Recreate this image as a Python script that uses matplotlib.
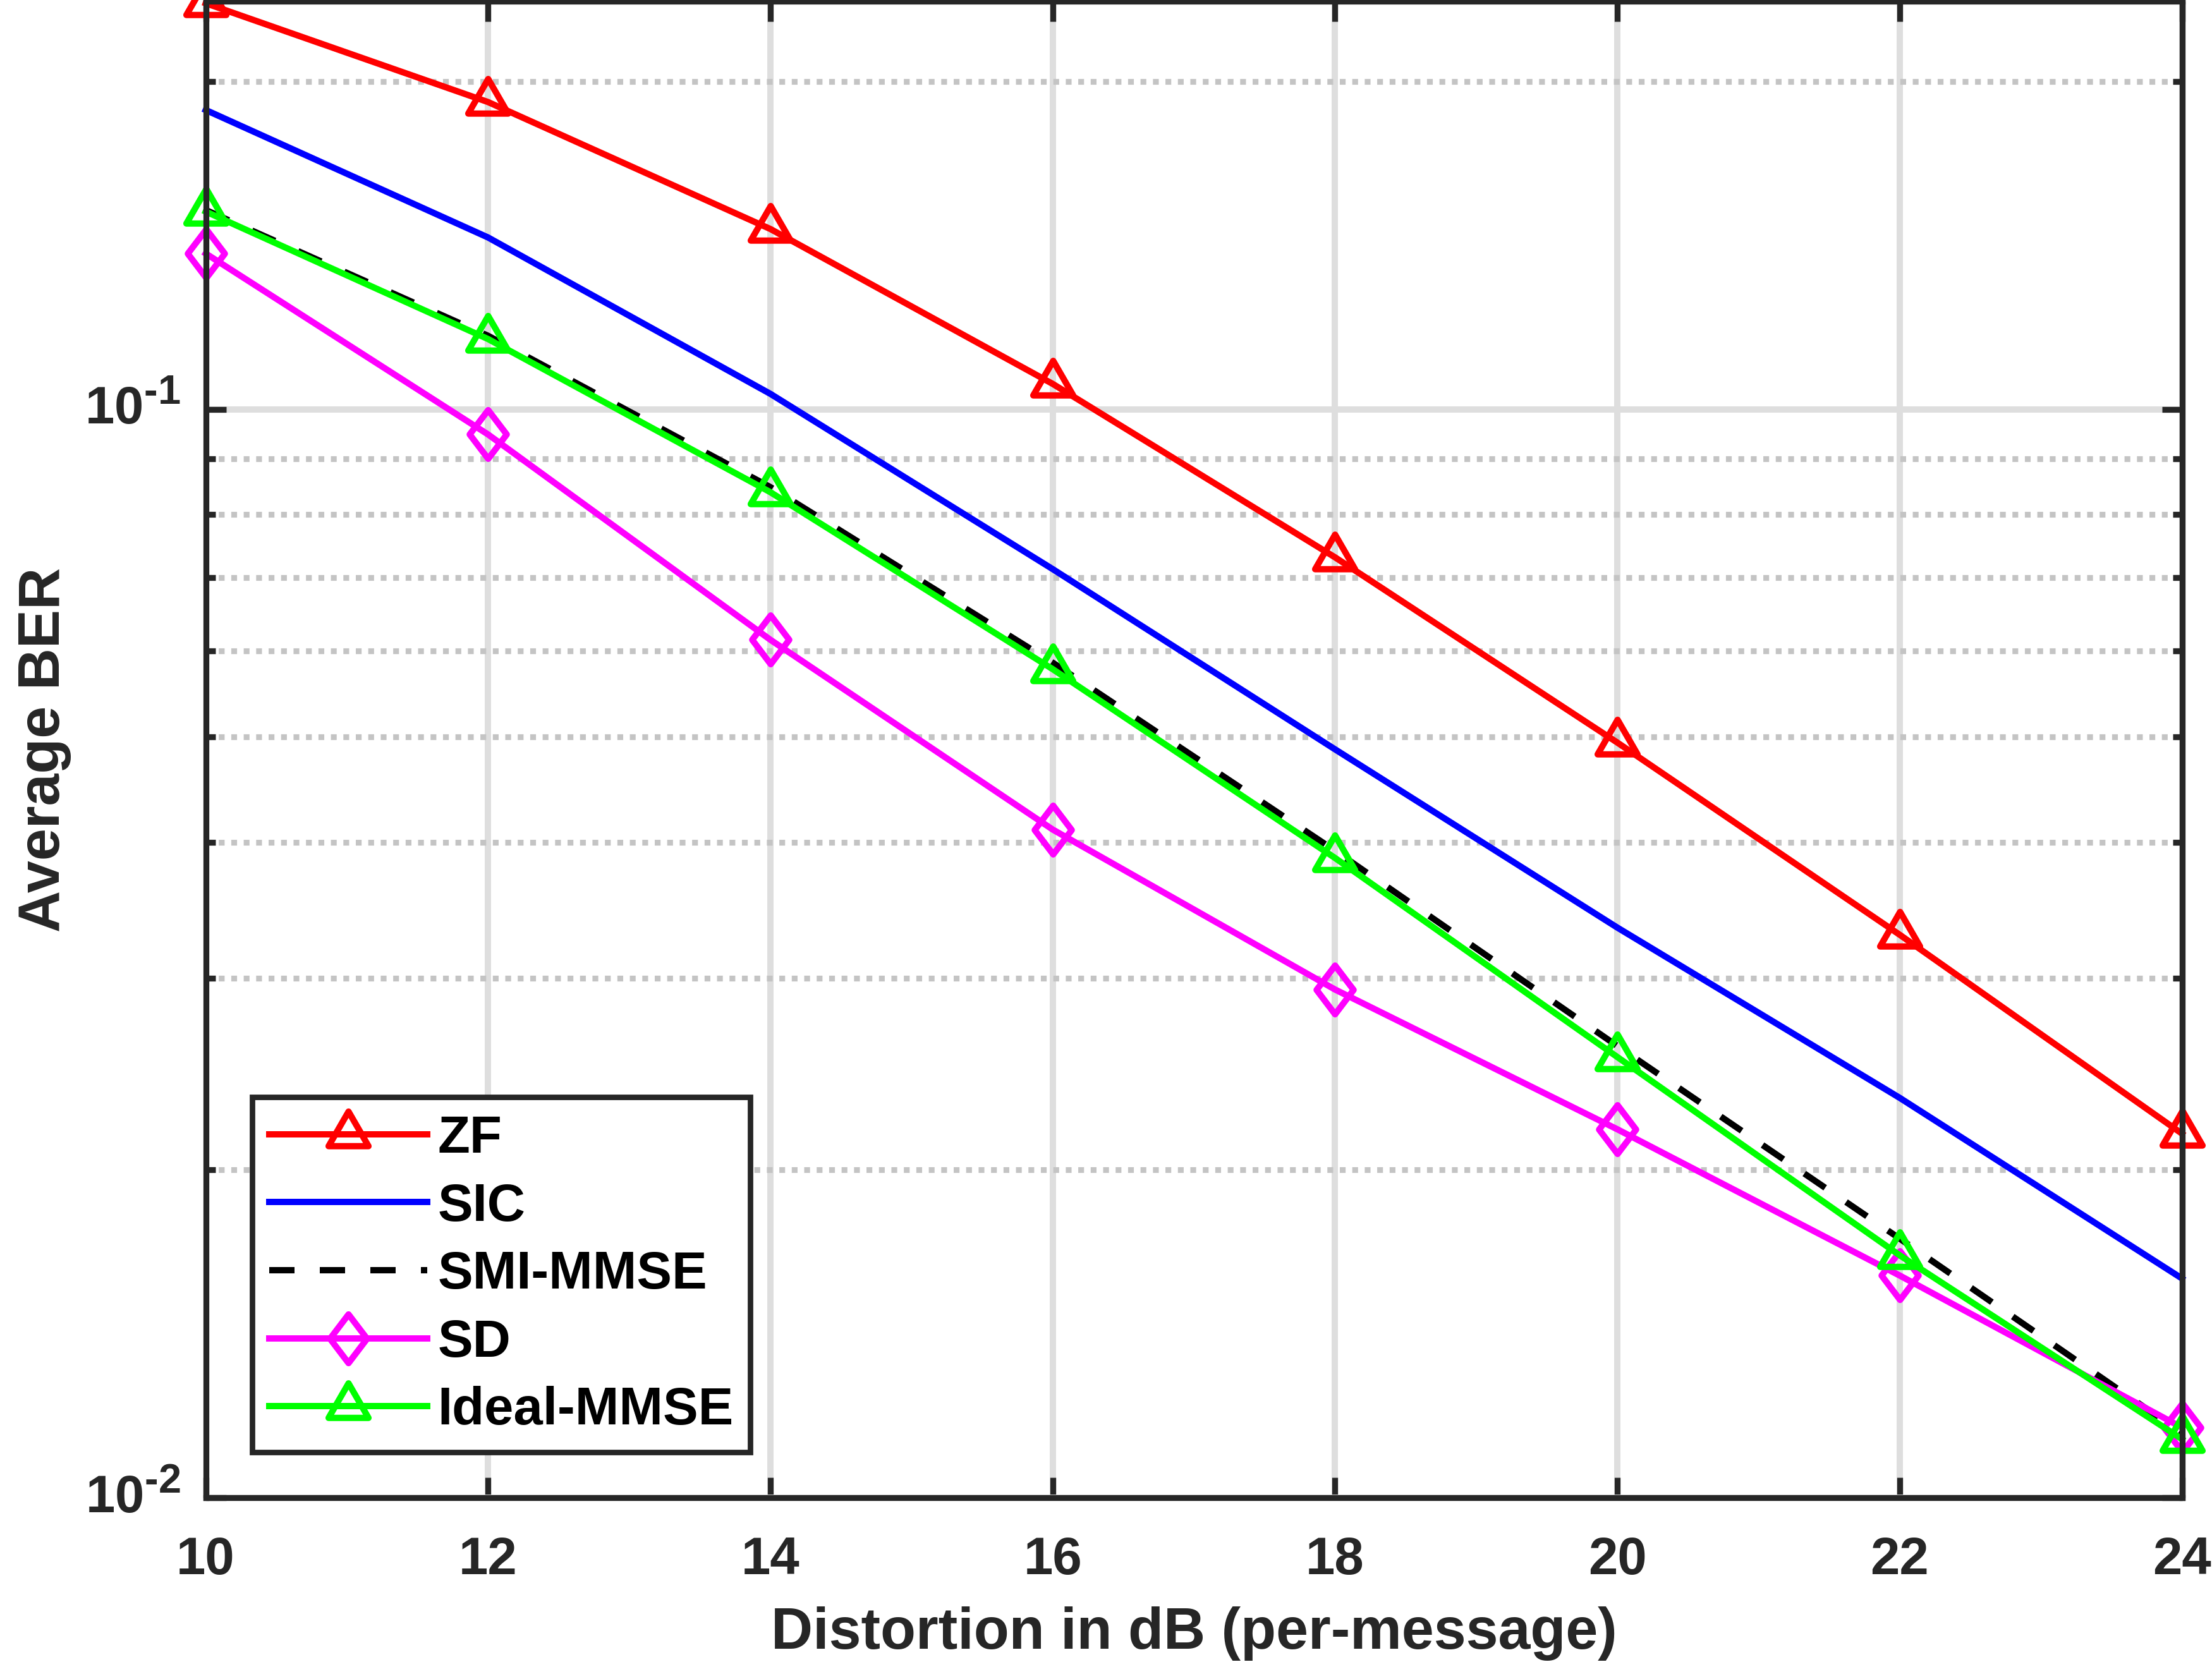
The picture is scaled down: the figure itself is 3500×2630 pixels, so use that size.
import matplotlib
matplotlib.use('Agg')
import matplotlib.pyplot as plt
import matplotlib._mathtext as mathtext_internal
from matplotlib.markers import MarkerStyle
from matplotlib.path import Path
from matplotlib.ticker import NullFormatter

# 字体: MATLAB 风格的粗体无衬线
plt.rcParams['font.family'] = ['Liberation Sans', 'DejaVu Sans']
plt.rcParams['font.weight'] = 'bold'
plt.rcParams['mathtext.fontset'] = 'custom'
plt.rcParams['mathtext.rm'] = 'Liberation Sans:bold'
plt.rcParams['mathtext.bf'] = 'Liberation Sans:bold'
plt.rcParams['mathtext.it'] = 'Liberation Sans:bold'
# 上标稍大一些, 接近 MATLAB
mathtext_internal.SHRINK_FACTOR = 0.78

# 数据
snr_db = [10, 12, 14, 16, 18, 20, 22, 24]
ber_zf = [0.236, 0.1915, 0.1464, 0.1055, 0.0731, 0.0494, 0.0329, 0.0216]
ber_sic = [0.1883, 0.1438, 0.1033, 0.0713, 0.0487, 0.0334, 0.0233, 0.0159]
ber_smi_mmse = [0.1524, 0.1168, 0.0848, 0.0585, 0.0393, 0.0260, 0.0173, 0.01146]
ber_sd = [0.1390, 0.0948, 0.0614, 0.0411, 0.0293, 0.0218, 0.0160, 0.0116]
ber_ideal_mmse = [0.1519, 0.1160, 0.0839, 0.0577, 0.0387, 0.0254, 0.0167, 0.01132]

x_ticks = [10, 12, 14, 16, 18, 20, 22, 24]
y_ticks = [1e-2, 1e-1]
y_tick_labels = [r'$10^{\text{-}2}$', r'$10^{\text{-}1}$']

AX_COLOR = '#262626'
LW = 2.4

# MATLAB 样式的三角形和菱形标记
tri = MarkerStyle(Path([(0, 1), (0.866, -0.5), (-0.866, -0.5), (0, 1)], closed=True),
                  joinstyle='miter')
dia = MarkerStyle(Path([(0, 1), (0.76, 0), (0, -1), (-0.76, 0), (0, 1)], closed=True),
                  joinstyle='miter')
MS_TRI = 17.5
MS_DIA = 18.5

fig = plt.figure(figsize=(3500 / 300, 2630 / 300), dpi=300)
ax = fig.add_axes([0.0930, 0.09886, 0.98643 - 0.0930, 0.99924 - 0.09886])

common = dict(linewidth=LW, markeredgewidth=LW, markerfacecolor='none', clip_on=False)
ax.plot(snr_db, ber_zf, color='#ff0000', marker=tri, markersize=MS_TRI, label='ZF', **common)
ax.plot(snr_db, ber_sic, color='#0000ff', label='SIC', **common)
ax.plot(snr_db, ber_smi_mmse, color='black', linestyle=(0, (4, 4)), label='SMI-MMSE', **common)
ax.plot(snr_db, ber_sd, color='#ff00ff', marker=dia, markersize=MS_DIA, label='SD', **common)
ax.plot(snr_db, ber_ideal_mmse, color='#00ff00', marker=tri, markersize=MS_TRI,
        label='Ideal-MMSE', **common)

ax.set_yscale('log')
ax.set_xlim(10, 24)
ax.set_ylim(0.01, 0.237)
ax.set_xticks(x_ticks)
ax.set_yticks(y_ticks, labels=y_tick_labels)
ax.yaxis.set_minor_formatter(NullFormatter())
for lab in ax.get_yticklabels():
    lab.set_verticalalignment('center')

# 网格
ax.set_axisbelow(True)
ax.grid(which='major', axis='both', color='#dedede', linewidth=LW, linestyle='-')
ax.yaxis.grid(which='minor', color='#c4c4c4', linewidth=2.2, linestyle=(0, (1, 1.15)))

# 坐标轴
for sp in ax.spines.values():
    sp.set_linewidth(2.23)
    sp.set_color(AX_COLOR)
ax.tick_params(which='both', direction='in', top=True, right=True,
               color=AX_COLOR, width=2.23, labelcolor=AX_COLOR, labelsize=20)
ax.tick_params(which='major', length=7.6)
ax.tick_params(which='minor', length=3.6)
ax.tick_params(axis='x', pad=14.5)
ax.tick_params(axis='y', pad=9.5)

ax.set_xlabel('Distortion in dB (per-message)', fontsize=22, fontweight='bold',
              color=AX_COLOR, labelpad=8.0)
ax.set_ylabel('Average BER', fontsize=22, fontweight='bold', color=AX_COLOR, labelpad=5)

leg = ax.legend(loc='lower left', bbox_to_anchor=(0.0235, 0.0304), borderaxespad=0,
                fontsize=20, handlelength=3.0, handletextpad=0.2, labelspacing=0.355,
                borderpad=0.32, fancybox=False, edgecolor=AX_COLOR, framealpha=1,
                numpoints=1)
leg.get_frame().set_linewidth(2.1)

fig.savefig('out.png', dpi=300)
